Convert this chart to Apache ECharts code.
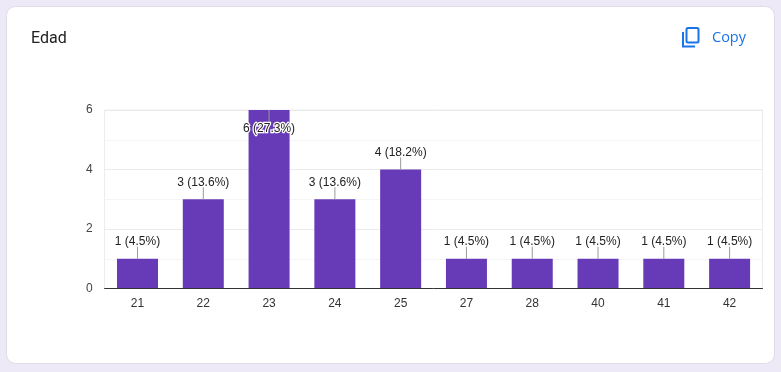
<!DOCTYPE html>
<html><head><meta charset="utf-8">
<style>html,body{margin:0;padding:0;background:#ede9f7}#c{width:781px;height:372px}</style>
<script src="https://cdn.jsdelivr.net/npm/echarts@6/dist/echarts.min.js"></script>
</head><body><div id="c"></div>
<script>
const chartTitle = 'Edad';
const categories = ['21','22','23','24','25','27','28','40','41','42'];
const counts = [1,3,6,3,4,1,1,1,1,1];
const percents = ['4.5','13.6','27.3','13.6','18.2','4.5','4.5','4.5','4.5','4.5'];
const yTicks = {min:0,max:6,interval:2};
const chart = echarts.init(document.getElementById('c'),null,{renderer:'canvas'});
const labelFont = '"Liberation Sans", Arial, sans-serif';
chart.setOption({
  animation:false,
  backgroundColor:'#ede9f7',
  grid:{left:104.6,right:18.5,top:110,height:178.5,show:true,borderColor:'#ececec',borderWidth:1,backgroundColor:'transparent'},
  xAxis:{type:'category',data:categories,
    axisLine:{lineStyle:{color:'#333',width:1}},axisTick:{show:false},
    axisLabel:{color:'#333',fontSize:12,fontFamily:labelFont,margin:9},z:5},
  yAxis:{type:'value',min:yTicks.min,max:yTicks.max,interval:yTicks.interval,
    axisLine:{show:false},axisTick:{show:false},
    axisLabel:{color:'#444',fontSize:12,fontFamily:labelFont,margin:12,padding:[4,0,0,0]},
    splitLine:{lineStyle:{color:'#ebebeb'}},
    minorTick:{show:false,splitNumber:2},
    minorSplitLine:{show:true,lineStyle:{color:'#f5f5f5'}}},
  graphic:[
    {type:'rect',z:-10,silent:true,shape:{x:6.5,y:6.5,width:768,height:357,r:9},style:{fill:'#fff',stroke:'#dfdde8',lineWidth:1}},
    {type:'text',z:10,x:31,y:31,style:{text:chartTitle,font:'400 16px Roboto, sans-serif',fill:'#202124'}},
    {type:'polyline',z:10,silent:true,shape:{points:[[683,32],[683,46.5],[695,46.5]]},style:{fill:'none',stroke:'#1a73e8',lineWidth:2}},
    {type:'rect',z:10,silent:true,shape:{x:686.5,y:28,width:12,height:14.5,r:1.5},style:{fill:'none',stroke:'#1a73e8',lineWidth:2}},
    {type:'text',z:10,x:712,y:30,style:{text:'Copy',font:'400 14.5px "Open Sans", sans-serif',fill:'#1a73e8'}}
  ],
  series:[
    {type:'bar',data:counts,barWidth:41,itemStyle:{color:'#673ab7'},z:2},
    {type:'custom',z:6,data:counts.map((v,i)=>[i,v]),encode:{x:0,y:1},clip:false,
      renderItem:function(params,api){
        const i=api.value(0), v=api.value(1);
        const p=api.coord([i,v]);
        const flip=v>=yTicks.max;
        const dir=flip?1:-1;
        return {type:'group',children:[
          {type:'line',shape:{x1:p[0],y1:p[1],x2:p[0],y2:p[1]+dir*12},style:{stroke:'#999',lineWidth:1}},
          {type:'text',style:{x:p[0],y:p[1]+dir*18+1,text:v+' ('+percents[i]+'%)',align:'center',verticalAlign:'middle',
            font:'12px '+labelFont,fill:'#222',stroke:'#fff',lineWidth:flip?2.5:0}}
        ]};
      }}
  ]
});
</script></body></html>
